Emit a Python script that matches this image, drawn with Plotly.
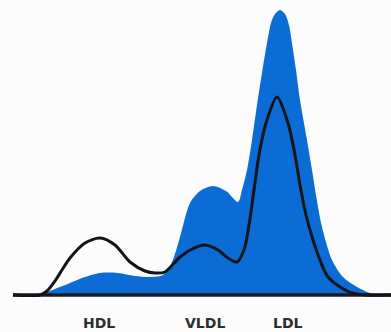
import plotly.graph_objects as go

# Blue filled profile (x position, height above baseline)
blue_x = [40, 55, 70, 85, 100, 118, 135, 150, 163, 172, 180, 190, 200, 213, 226, 238, 242, 247, 252, 257, 262, 267, 271, 275, 280, 285, 289, 292, 296, 300, 307, 312, 316, 322, 332, 343, 357, 370, 380, 391]
blue_y = [0, 6, 12, 18, 22, 22, 19, 18, 20, 33, 58, 92, 104, 109, 104, 93, 105, 125, 155, 190, 222, 252, 272, 281, 285, 281, 270, 252, 225, 195, 155, 125, 100, 68, 35, 18, 8, 2, 0, 0]

# Black line profile
line_x = [13, 40, 47, 55, 62, 70, 85, 100, 115, 130, 145, 155, 165, 180, 192, 205, 218, 228, 237, 244, 249, 254, 259, 266, 277, 288, 295, 300, 306, 313, 320, 328, 347, 365, 391]
line_y = [0, 0, 4, 14, 25, 37, 52, 57, 50, 33, 24, 22, 23, 38, 46, 50, 45, 37, 33, 45, 70, 105, 140, 172, 198, 172, 140, 110, 80, 55, 35, 18, 4, 0, 0]

# Baseline
base_x = [13, 391]
base_y = [0, 0]

labels = ["HDL", "VLDL", "LDL"]
label_x = [98.5, 205, 288]

fig = go.Figure()
fig.add_trace(go.Scatter(x=blue_x, y=blue_y, mode="lines", fill="tozeroy",
                         line=dict(color="#0a6cd4", width=0, shape="spline", smoothing=0.8),
                         fillcolor="#0a6cd4", hoverinfo="skip"))
fig.add_trace(go.Scatter(x=base_x, y=base_y, mode="lines",
                         line=dict(color="#161b20", width=3.5), hoverinfo="skip"))
fig.add_trace(go.Scatter(x=line_x, y=line_y, mode="lines",
                         line=dict(color="#111418", width=3, shape="spline", smoothing=0.8),
                         hoverinfo="skip"))

for t, x in zip(labels, label_x):
    fig.add_annotation(x=x, y=-28, text="<b>%s</b>" % t, showarrow=False,
                       font=dict(family="DejaVu Sans", size=14, color="#2e2e2e"),
                       xanchor="center", yanchor="middle")

fig.update_layout(
    width=391, height=332, margin=dict(l=0, r=0, t=0, b=0),
    paper_bgcolor="#fcfcfc", plot_bgcolor="#fcfcfc", showlegend=False,
    xaxis=dict(range=[0, 391], visible=False, fixedrange=True),
    yaxis=dict(range=[-37, 295], visible=False, fixedrange=True),
)
fig.write_html("out.html", config={"displayModeBar": False},
               post_script="document.body.style.margin='0';document.body.style.background='#fcfcfc';")
